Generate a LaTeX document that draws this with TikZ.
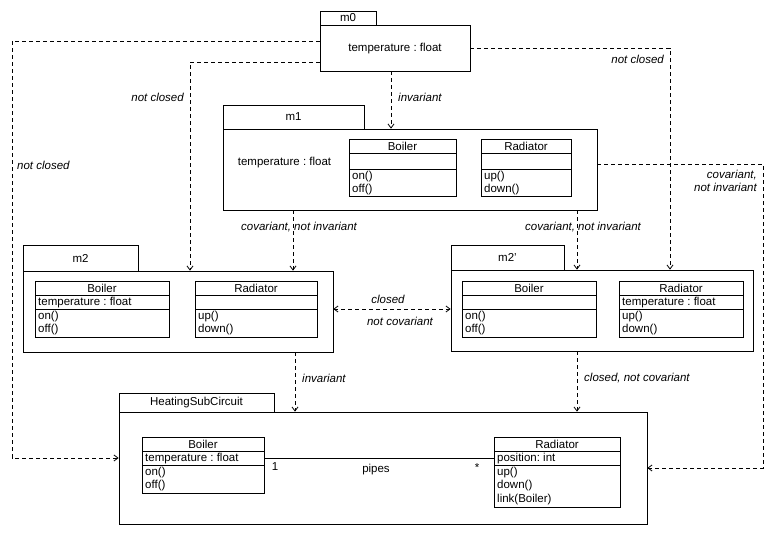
\documentclass[tikz,border=0pt]{standalone}
\usepackage{fontspec}
\setmainfont{Liberation Sans}
\usetikzlibrary{fit,arrows.meta}
\frenchspacing
\tikzset{
  box/.style={draw, line width=0.8pt, inner sep=0pt},
  dep/.style={line width=0.8pt, dash pattern=on 4pt off 3pt, -{Straight Barb[length=4pt,width=6pt]}},
  lbl/.style={font=\fontsize{11.5}{13}\selectfont\itshape, inner sep=0pt},
  txt/.style={font=\fontsize{11.5}{13}\selectfont, inner sep=0pt},
  solidline/.style={line width=0.8pt},
}
% package: name, x1, ytab, xtab2, ybody, x2, y2, label
\newcommand\umlpkg[8]{%
  \node[box, fit={(#2,#3)(#4,#5)}] (#1tab) {};
  \node[txt] at (#1tab.center) {#8};
  \node[box, fit={(#2,#5)(#6,#7)}] (#1) {};
}
% class: name, x1, y1, x2, y2, yattrline, title, attr, ops
\newcommand\umlclass[9]{%
  \node[box, fit={(#2,#3)(#4,#5)}] (#1) {};
  \draw[solidline] (#2,#3+14) -- (#4,#3+14);
  \draw[solidline] (#2,#6) -- (#4,#6);
  \node[txt] at ({(#2+#4)/2},#3+7.5) {#7};
  \node[txt, anchor=west] at (#2+3,{(#3+14+#6)/2+0.5}) {#8};
  \foreach \o [count=\i] in {#9} {
    \node[txt, anchor=west] at (#2+3,{#6+7.5+13.5*(\i-1)}) {\o};
  }
}
\begin{document}
\begin{tikzpicture}[x=1pt,y=-1pt]
\useasboundingbox[fill=white] (0,0) rectangle (774,535);

% packages
\umlpkg{m0}{320}{11}{376}{25}{470}{71}{m0}
\node[txt] (m0t) at (395,49) {temperature : float};

\umlpkg{m1}{223}{105}{364}{129}{597}{210}{m1}
\node[txt] (m1t) at (284.5,163) {temperature : float};
\umlclass{m1B}{349}{139}{456}{196}{169}{Boiler}{}{on(),off()}
\umlclass{m1R}{481}{139}{571}{196}{169}{Radiator}{}{up(),down()}

\umlpkg{m2}{23}{245}{138}{271}{333}{352}{m2}
\umlclass{m2B}{35}{281}{169}{337}{309}{Boiler}{temperature : float}{on(),off()}
\umlclass{m2R}{195}{281}{317}{337}{309}{Radiator}{}{up(),down()}

\umlpkg{m2p}{451}{245}{564}{270}{753}{351}{m2'}
\umlclass{m2pB}{462}{281}{596}{337}{309}{Boiler}{}{on(),off()}
\umlclass{m2pR}{619}{281}{743}{337}{309}{Radiator}{temperature : float}{up(),down()}

\umlpkg{hsc}{119}{393}{274}{412}{647}{524}{HeatingSubCircuit}
\umlclass{hscB}{142}{437}{264}{493}{465}{Boiler}{temperature : float}{on(),off()}
\umlclass{hscR}{494}{437}{620}{507}{465}{Radiator}{position: int}{up(),down(),link(Boiler)}

% association
\coordinate (p1) at (0,458);
\draw[solidline] (hscB.east |- p1) -- (hscR.west |- p1);
\node[txt] (one) at (275,467) {1};
\node[txt] (star) at (477,468) {*};
\node[txt] (pipes) at (376,470) {pipes};

% dependencies
\coordinate (a1) at (391,0);
\draw[dep] (m0.south -| a1) -- (m1.north -| a1);
\node[lbl, anchor=west] at (398,97) {invariant};

\coordinate (b1) at (12,41);
\coordinate (b2) at (12,458);
\draw[dep] (m0.west |- b1) -- (b1) -- (b2) -- (hsc.west |- b2);
\node[lbl, anchor=west] at (17,165) {not closed};

\coordinate (c1) at (190,62);
\draw[dep] (m0.west |- c1) -- (c1) -- (m2.north -| c1);
\node[lbl, anchor=east] at (184,97) {not closed};

\coordinate (d1) at (670,48);
\draw[dep] (m0.east |- d1) -- (d1) -- (m2p.north -| d1);
\node[lbl, anchor=east] at (664,59) {not closed};

\coordinate (e1) at (763,164);
\coordinate (e2) at (763,468);
\draw[dep] (m1.east |- e1) -- (e1) -- (e2) -- (hsc.east |- e2);
\node[lbl, anchor=east, align=right] at (757,181) {covariant,\\not invariant};

\coordinate (f1) at (293,0);
\draw[dep] (m1.south -| f1) -- (m2.north -| f1);
\node[lbl, anchor=west] at (241,227) {covariant, not invariant};

\coordinate (g1) at (577,0);
\draw[dep] (m1.south -| g1) -- (m2p.north -| g1);
\node[lbl, anchor=west] at (525,227) {covariant, not invariant};

\coordinate (h1) at (0,309);
\draw[dep, {Straight Barb[length=4pt,width=6pt]}-{Straight Barb[length=4pt,width=6pt]}] (m2.east |- h1) -- (m2p.west |- h1);
\node[lbl] at (388,299) {closed};
\node[lbl] at (400,321) {not covariant};

\coordinate (i1) at (295,0);
\draw[dep] (m2.south -| i1) -- (hsc.north -| i1);
\node[lbl, anchor=west] at (302,378) {invariant};

\coordinate (j1) at (577,0);
\draw[dep] (m2p.south -| j1) -- (hsc.north -| j1);
\node[lbl, anchor=west] at (584,378) {closed, not covariant};
\end{tikzpicture}
\end{document}
